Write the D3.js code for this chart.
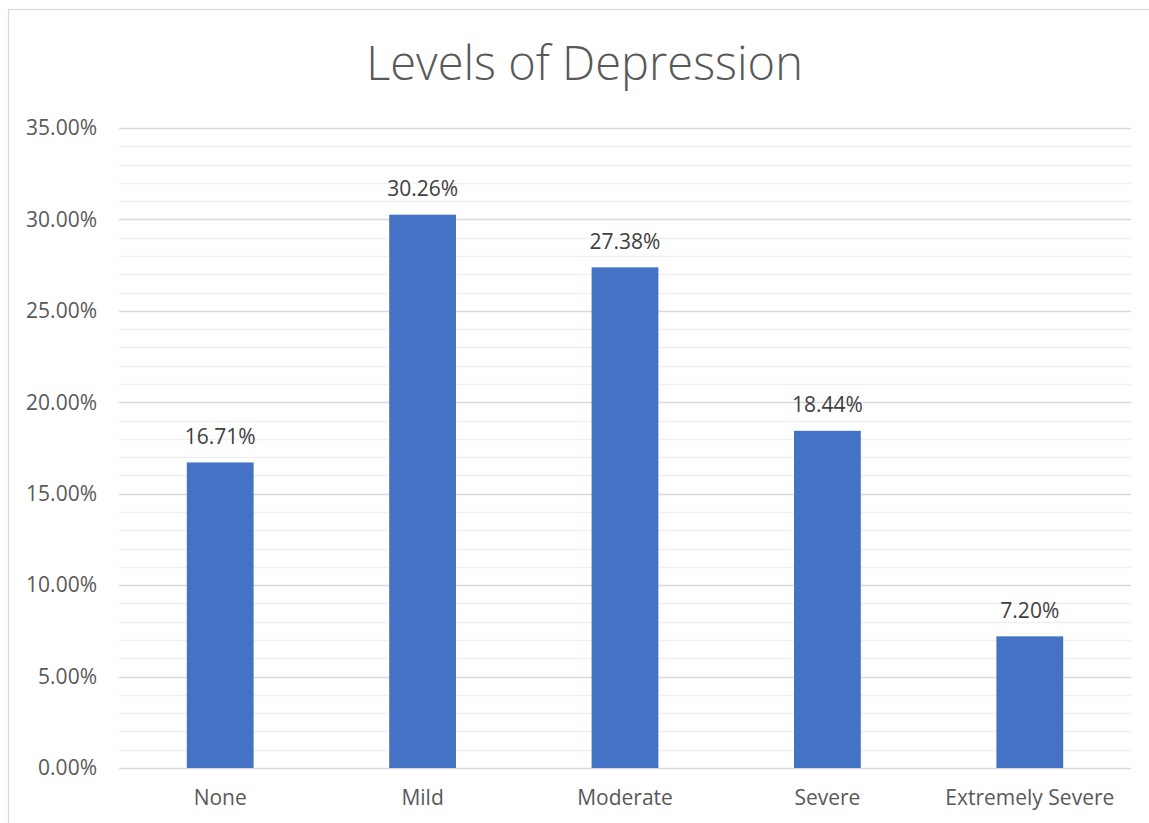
<!DOCTYPE html>
<html><head><meta charset="utf-8">
<script src="https://cdn.jsdelivr.net/npm/d3@7"></script>
<style>body{margin:0;background:#fff;} svg{display:block;}</style>
</head><body>
<script>
const categories = ["None","Mild","Moderate","Severe","Extremely Severe"];
const values = [16.71, 30.26, 27.38, 18.44, 7.20];
const labels = ["16.71%","30.26%","27.38%","18.44%","7.20%"];
const majorTicks = [0,5,10,15,20,25,30,35];
const minorTicks = d3.range(0,36,1);
const title = "Levels of Depression";

(function(){
const W=1149,H=823;
const svg=d3.select("body").append("svg").attr("width",W).attr("height",H);
const font="'Open Sans', 'Noto Sans', sans-serif";
// frame
svg.append("rect").attr("x",8.5).attr("y",9.5).attr("width",W+10).attr("height",H+10)
  .attr("fill","#fff").attr("stroke","#d9d9d9").attr("stroke-width",1.2);

const pL=119,pR=1131,pT=128,pB=768;
const x=d3.scaleBand().domain(categories).range([pL,pR]).paddingInner(0.67).paddingOuter(0.335);
const y=d3.scaleLinear().domain([0,35]).range([pB,pT]);

// minor grid
svg.append("g").selectAll("line").data(minorTicks.filter(d=>d%5!==0)).join("line")
  .attr("x1",pL).attr("x2",pR).attr("y1",d=>Math.round(y(d))+0.5).attr("y2",d=>Math.round(y(d))+0.5)
  .attr("stroke","#f0f0f0").attr("stroke-width",1.3);
// major grid
svg.append("g").selectAll("line").data(majorTicks).join("line")
  .attr("x1",pL).attr("x2",pR).attr("y1",d=>Math.round(y(d))+0.5).attr("y2",d=>Math.round(y(d))+0.5)
  .attr("stroke","#d9d9d9").attr("stroke-width",1.3);

// y axis labels
const yAxis=d3.axisLeft(y).tickValues(majorTicks).tickFormat(d=>d.toFixed(2)+"%").tickSize(0).tickPadding(22);
const gy=svg.append("g").attr("transform",`translate(${pL},0)`).call(yAxis);
gy.select(".domain").remove();
gy.selectAll("text").attr("font-family",font).attr("font-size",21).attr("fill","#595959");

// bars
svg.append("g").selectAll("rect").data(values).join("rect")
  .attr("x",(d,i)=>x(categories[i])).attr("width",x.bandwidth())
  .attr("y",d=>y(d)).attr("height",d=>y(0)-y(d)).attr("fill","#4472c4");

// data labels
svg.append("g").selectAll("text").data(values).join("text")
  .attr("x",(d,i)=>x(categories[i])+x.bandwidth()/2).attr("y",d=>y(d)-18.5)
  .attr("text-anchor","middle").attr("font-family",font).attr("font-size",21).attr("fill","#404040")
  .text((d,i)=>labels[i]);

// x axis labels
const xAxis=d3.axisBottom(x).tickSize(0).tickPadding(22);
const gx=svg.append("g").attr("transform",`translate(0,${pB})`).call(xAxis);
gx.select(".domain").remove();
gx.selectAll("text").attr("font-family",font).attr("font-size",21).attr("fill","#595959");

// title
svg.append("text").attr("x",(367+802)/2).attr("y",80).attr("text-anchor","middle")
  .attr("font-family",font).attr("font-weight",300).attr("font-size",47).attr("fill","#595959").text(title);
})();
</script>
</body></html>
